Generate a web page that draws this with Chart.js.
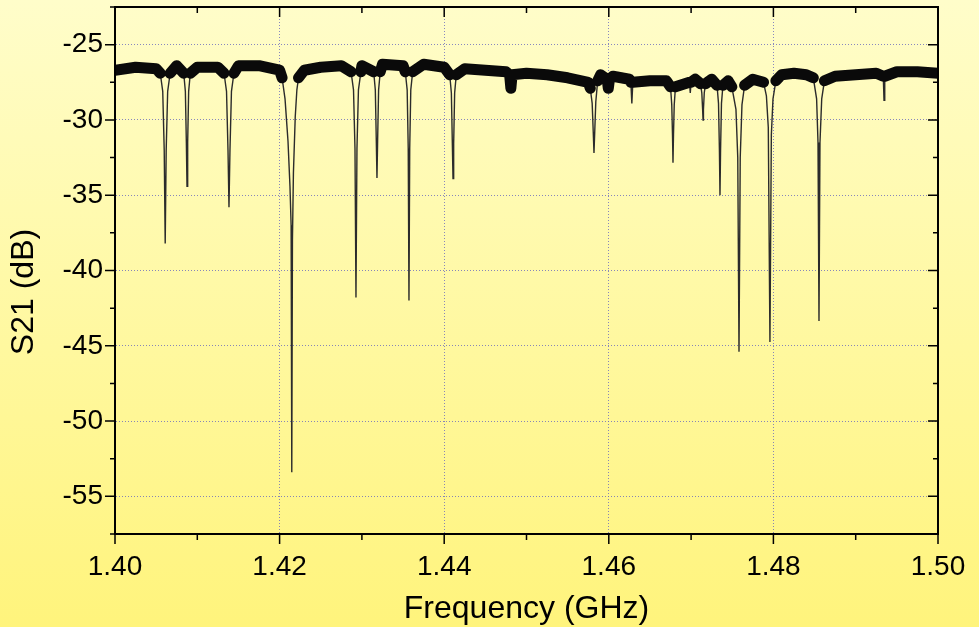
<!DOCTYPE html>
<html>
<head>
<meta charset="utf-8">
<script src="https://cdn.jsdelivr.net/npm/chart.js@4/dist/chart.umd.min.js"></script>
<style>
  html, body { margin: 0; padding: 0; background: #fff9a8; }
  canvas { display: block; }
</style>
</head>
<body>
<canvas id="s21Chart" width="979" height="627"></canvas>
<script>
// baseline of the transmission trace (GHz, dB)
const baseFreq = [
    1.4000, 1.4025, 1.4050, 1.4075, 1.4100, 1.4125, 1.4150, 1.4175, 1.4200, 1.4230,
    1.4250, 1.4275, 1.4300, 1.4325, 1.4350, 1.4375, 1.4400, 1.4425, 1.4450, 1.4475,
    1.4500, 1.4525, 1.4550, 1.4575, 1.4590, 1.4605, 1.4625, 1.4650, 1.4670, 1.4705,
    1.4725, 1.4745, 1.4775, 1.4810, 1.4825, 1.4840, 1.4875, 1.4900, 1.4925, 1.4950,
    1.4975, 1.5000
];
const baseS21 = [
    -26.7, -26.5, -26.6, -26.4, -26.5, -26.5, -26.4, -26.4, -26.7, -26.7,
    -26.5, -26.4, -26.4, -26.3, -26.4, -26.3, -26.5, -26.6, -26.7, -26.8,
    -26.9, -27.0, -27.2, -27.5, -27.0, -27.1, -27.3, -27.4, -27.4, -27.3,
    -27.3, -27.4, -27.3, -27.0, -26.9, -27.0, -27.1, -27.0, -26.9, -26.8,
    -26.8, -26.9
];

// resonance dips, one line per dip
const dipFreq = [
    1.4055, 1.4058, 1.40598, 1.4061, 1.40622, 1.4064, 1.4067,
    1.40835, 1.40855, 1.40867, 1.40875, 1.40883, 1.40895, 1.40915,
    1.41325, 1.41355, 1.41373, 1.41385, 1.41397, 1.41415, 1.41445,
    1.4203, 1.42066, 1.42102, 1.42126, 1.4214, 1.42148, 1.42156, 1.42168, 1.4219, 1.4221, 1.4223,
    1.42868, 1.42898, 1.42916, 1.42928, 1.4294, 1.42958, 1.42988,
    1.43143, 1.43163, 1.43175, 1.43183, 1.43191, 1.43203, 1.43223,
    1.43527, 1.4355, 1.43563, 1.43572, 1.43581, 1.43594, 1.43617,
    1.44067, 1.44087, 1.44099, 1.44107, 1.44115, 1.44127, 1.44147,
    1.44795, 1.4481, 1.44825,
    1.45775, 1.45798, 1.45811, 1.4582, 1.45829, 1.45842, 1.45865,
    1.4598, 1.45994, 1.46008,
    1.46268, 1.4628, 1.46292,
    1.4675, 1.46765, 1.46774, 1.4678, 1.46786, 1.46795, 1.4681,
    1.4698, 1.4699, 1.4700,
    1.47115, 1.4713, 1.4714, 1.47145, 1.4715, 1.4716, 1.47175,
    1.47315, 1.47333, 1.47344, 1.47351, 1.47358, 1.47369, 1.47387,
    1.47495, 1.47545, 1.47567, 1.47582, 1.47597, 1.47618, 1.4765,
    1.4788, 1.47915, 1.47938, 1.47958, 1.47975, 1.47995, 1.4803,
    1.48485, 1.48525, 1.48542, 1.48554, 1.48566, 1.48587, 1.4862,
    1.49335, 1.49344, 1.49353
];
const dipS21 = [
    -26.9, -28.1, -32.0, -38.2, -32.0, -28.1, -26.9,
    -26.9, -28.1, -31.5, -34.4, -31.5, -28.1, -26.9,
    -26.9, -28.1, -32.0, -35.8, -32.0, -28.1, -26.9,
    -27.2, -28.6, -31.4, -34.4, -37.0, -53.4, -38.0, -33.5, -29.8, -28.0, -27.2,
    -26.8, -28.0, -31.9, -41.8, -31.9, -28.0, -26.8,
    -26.8, -28.0, -31.4, -33.85, -31.4, -28.0, -26.8,
    -26.8, -28.0, -31.9, -42.0, -31.9, -28.0, -26.8,
    -27.0, -28.2, -31.6, -33.9, -31.6, -28.2, -27.0,
    -27.0, -27.9, -27.0,
    -27.9, -28.9, -30.8, -32.2, -30.8, -28.8, -27.4,
    -27.3, -27.9, -27.3,
    -27.5, -28.9, -27.5,
    -27.8, -29.0, -31.0, -32.85, -31.0, -29.0, -27.8,
    -27.5, -28.2, -27.5,
    -27.6, -28.2, -29.3, -30.0, -29.3, -28.2, -27.6,
    -27.7, -28.9, -32.0, -35.0, -32.0, -28.9, -27.7,
    -27.8, -29.3, -32.5, -45.4, -32.5, -29.0, -27.7,
    -27.5, -28.4, -30.5, -44.75, -31.0, -28.6, -27.4,
    -27.2, -28.6, -31.5, -43.35, -31.5, -28.6, -27.4,
    -27.1, -28.7, -27.1
];

// axis ticks
const xMajor = [1.40, 1.42, 1.44, 1.46, 1.48, 1.50];
const xMinor = [1.41, 1.43, 1.45, 1.47, 1.49];
const yMajor = [-55, -50, -45, -40, -35, -30, -25];
const yMinor = [-57.5, -52.5, -47.5, -42.5, -37.5, -32.5, -27.5, -22.5];

const FONT = '"Liberation Sans", Arial, sans-serif';

document.addEventListener('DOMContentLoaded', function () {

    const trace = baseFreq.map((f, i) => ({ x: f, y: baseS21[i] }))
        .concat(dipFreq.map((f, i) => ({ x: f, y: dipS21[i] })))
        .sort((a, b) => a.x - b.x);
    // the noisy floor is drawn as a thick band, broken where the dips go down
    const band = trace.map(p => ({ x: p.x, y: p.y > -27.95 ? p.y : null }));

    const background = {
        id: 'background',
        beforeDraw(chart) {
            const { ctx, width, height } = chart;
            const g = ctx.createLinearGradient(0, 0, 0, height);
            g.addColorStop(0, '#fffdca');
            g.addColorStop(1, '#fff47c');
            ctx.save();
            ctx.fillStyle = g;
            ctx.fillRect(0, 0, width, height);
            ctx.restore();
        }
    };

    const frame = {
        id: 'frame',
        afterDraw(chart) {
            const { ctx, chartArea: a, scales: { x, y } } = chart;
            ctx.save();
            ctx.strokeStyle = '#000';
            ctx.lineWidth = 1.5;
            ctx.beginPath();
            const xTick = (v, len) => {
                const px = x.getPixelForValue(v);
                ctx.moveTo(px, a.bottom); ctx.lineTo(px, a.bottom + len);
                ctx.moveTo(px, a.top); ctx.lineTo(px, a.top + len);
            };
            const yTick = (v, len) => {
                const py = y.getPixelForValue(v);
                ctx.moveTo(a.left, py); ctx.lineTo(a.left - len, py);
                ctx.moveTo(a.right, py); ctx.lineTo(a.right - len, py);
            };
            xMajor.forEach(v => xTick(v, 10));
            xMinor.forEach(v => xTick(v, 6));
            yMajor.forEach(v => yTick(v, 10));
            yMinor.forEach(v => yTick(v, 5));
            ctx.stroke();
            ctx.lineWidth = 2;
            ctx.strokeRect(a.left, a.top, a.right - a.left, a.bottom - a.top);

            // y axis title
            ctx.translate(24, 292);
            ctx.rotate(-Math.PI / 2);
            ctx.fillStyle = '#000';
            ctx.font = '32px ' + FONT;
            ctx.textAlign = 'center';
            ctx.textBaseline = 'middle';
            ctx.fillText('S21 (dB)', 0, 0);
            ctx.restore();
        }
    };

    const gridColor = 'rgba(105, 105, 190, 0.8)';

    const s21Ctx = document.getElementById('s21Chart');
    new Chart(s21Ctx, {
        type: 'line',
        data: {
            datasets: [
                {
                    label: 'S21',
                    data: trace,
                    borderColor: '#2b2b2b',
                    borderWidth: 1.4,
                    pointRadius: 0,
                    tension: 0,
                    order: 2,
                },
                {
                    label: 'floor',
                    data: band,
                    borderColor: '#0a0a0a',
                    borderWidth: 11,
                    borderJoinStyle: 'round',
                    borderCapStyle: 'round',
                    pointRadius: 0,
                    tension: 0,
                    spanGaps: false,
                    order: 1,
                },
            ]
        },
        options: {
            responsive: false,
            animation: false,
            devicePixelRatio: 1,
            layout: { padding: { left: 0, top: 7, right: 41, bottom: 0 } },
            plugins: {
                legend: { display: false },
                tooltip: { enabled: false },
            },
            scales: {
                x: {
                    type: 'linear',
                    min: 1.40,
                    max: 1.50,
                    afterBuildTicks: s => { s.ticks = xMajor.map(v => ({ value: v })); },
                    afterFit: s => { s.height = 93; s.paddingLeft = 0; s.paddingRight = 0; },
                    ticks: {
                        callback: v => v.toFixed(2),
                        color: '#000',
                        font: { family: FONT, size: 28 },
                        padding: 16,
                        maxRotation: 0,
                        autoSkip: false,
                    },
                    grid: { color: gridColor, drawTicks: false },
                    border: { display: true, color: '#000', width: 2, dash: [1, 2] },
                    title: {
                        display: true,
                        text: 'Frequency (GHz)',
                        color: '#000',
                        font: { family: FONT, size: 32, lineHeight: 1.1 },
                        padding: 0,
                    }
                },
                y: {
                    min: -57.5,
                    max: -22.5,
                    afterBuildTicks: s => { s.ticks = yMajor.map(v => ({ value: v })); },
                    afterFit: s => { s.width = 115; s.paddingTop = 0; s.paddingBottom = 0; },
                    ticks: {
                        color: '#000',
                        font: { family: FONT, size: 28 },
                        padding: 12,
                    },
                    grid: { color: gridColor, drawTicks: false },
                    border: { display: true, color: '#000', width: 2, dash: [1, 2] },
                }
            }
        },
        plugins: [background, frame]
    });

});
</script>
</body>
</html>
